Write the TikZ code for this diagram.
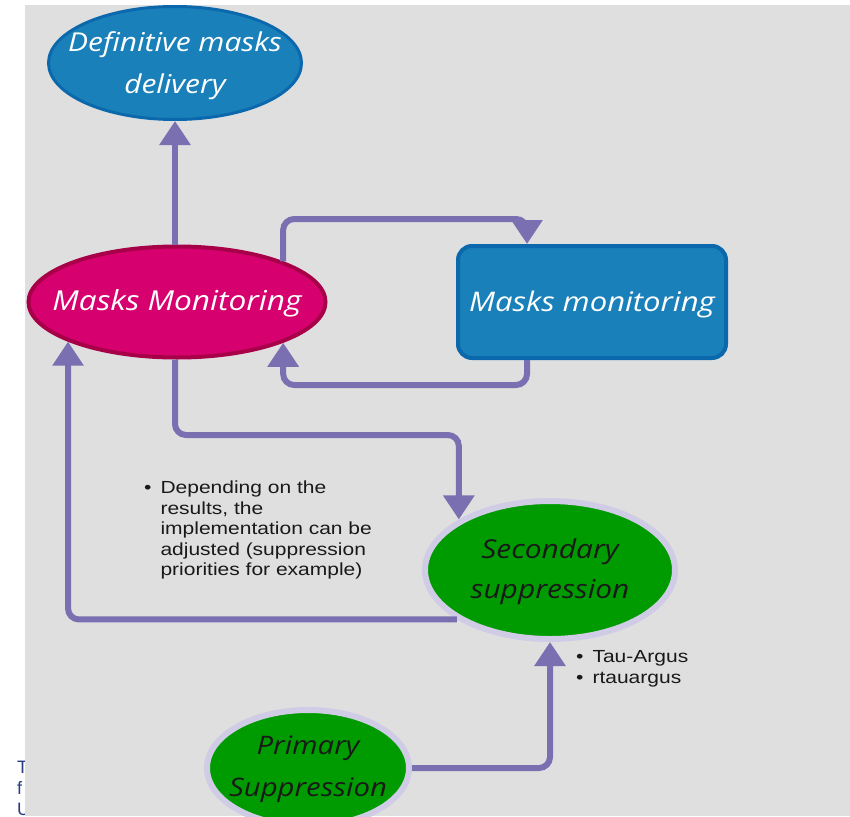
\documentclass[tikz,border=0pt]{standalone}
\usepackage{fontspec}
\setmainfont{Liberation Sans}
\newfontfamily\notefont[FakeStretch=1.2]{Liberation Sans}
\newfontfamily\hand[FakeStretch=1.15]{Open Sans}
\usetikzlibrary{arrows.meta,shapes.geometric}
\definecolor{bggray}{RGB}{223,223,223}
\definecolor{conncol}{RGB}{122,111,176}
\definecolor{bluefill}{RGB}{26,128,185}
\definecolor{blueedge}{RGB}{12,104,172}
\definecolor{magfill}{RGB}{214,0,110}
\definecolor{magedge}{RGB}{168,0,72}
\definecolor{greenfill}{RGB}{0,155,0}
\definecolor{lavedge}{RGB}{208,204,230}
\definecolor{navytext}{RGB}{40,60,130}
\tikzset{
  conn/.style={draw=conncol, line width=6pt, rounded corners=11pt,
    -{Triangle[width=30pt,length=24pt]}},
  lbl/.style={inner sep=0pt, align=center},
  blueell/.style={ellipse, fill=bluefill, draw=blueedge, line width=3pt, inner sep=0pt},
  magell/.style={ellipse, fill=magfill, draw=magedge, line width=4pt, inner sep=0pt},
  greenell/.style={ellipse, fill=greenfill, draw=lavedge, line width=6pt, inner sep=0pt},
  bluebox/.style={rectangle, rounded corners=14pt, fill=bluefill, draw=blueedge, line width=4pt,
    inner sep=0pt},
  wtext/.style={lbl, text=white},
  ktext/.style={lbl, text=black!90},
  note/.style={inner sep=0pt, anchor=north west, align=left, text=black!90,
    font=\notefont\fontsize{17.5}{20.5}\selectfont},
  cutletter/.style={inner sep=0pt, anchor=west, text=navytext, font=\fontsize{18}{20}\selectfont}
}
\begin{document}
\begin{tikzpicture}[x=1pt,y=-1pt]
\useasboundingbox (0,0) rectangle (850,816);
\fill[white] (0,0) rectangle (850,816);
\node[cutletter] (c1) at (17,767) {T};
\node[cutletter] (c2) at (17,788) {f};
\node[cutletter] (c3) at (17,809) {U};
\fill[bggray] (25,5) rectangle (850,816);
\begin{scope}
\clip (25,5) rectangle (850,816);
\node[blueell, minimum width=253pt, minimum height=113pt,
  label={[wtext, yshift=-3pt, font=\hand\itshape\fontsize{26}{42}\selectfont]center:{Definitive masks\\delivery}}] (def) at (175,63) {};
\node[magell, minimum width=297pt, minimum height=111pt,
  label={[wtext, yshift=-1pt, font=\hand\itshape\fontsize{27.5}{30}\selectfont]center:{Masks Monitoring}}] (mm) at (177,302) {};
\node[bluebox, minimum width=268pt, minimum height=112pt,
  label={[wtext, yshift=-2pt, font=\hand\itshape\fontsize{27}{30}\selectfont]center:{Masks monitoring}}] (box) at (592,302) {};
\node[greenell, minimum width=250pt, minimum height=138pt,
  label={[ktext, yshift=-2pt, font=\hand\itshape\fontsize{26}{40}\selectfont]center:{Secondary\\suppression}}] (sec) at (550,570) {};
\node[greenell, minimum width=202pt, minimum height=116pt,
  label={[ktext, yshift=-1pt, font=\hand\itshape\fontsize{25.5}{42}\selectfont]center:{Primary\\Suppression}}] (pri) at (308,768) {};

\coordinate (lt) at (283,219);
\coordinate (rt) at (527,219);
\coordinate (bl) at (283,385);
\coordinate (md) at (175,435);

\draw[conn] (def.south |- mm.north) -- (def.south);
\draw[conn] (mm.21) -- (mm.21 |- lt) -- (rt) -- (rt |- box.north);
\draw[conn] (rt |- box.south) -- (rt |- bl) -- (mm.-21 |- bl) -- (mm.-21);
\draw[conn] (mm.south -| def.south) -- (md) -| (sec.151);
\draw[conn] (sec.208) -| (mm.200);
\draw[conn] (pri.east) -| (sec.south);

\node[note] (n1) at (144,479) {\begin{tabular}{@{}l@{\hspace{9pt}}l@{}}
\textbullet & Depending on the\\
 & results, the\\
 & implementation can be\\
 & adjusted (suppression\\
 & priorities for example)
\end{tabular}};
\node[note] (n2) at (576,648) {\begin{tabular}{@{}l@{\hspace{9pt}}l@{}}
\textbullet & Tau-Argus\\
\textbullet & rtauargus
\end{tabular}};
\end{scope}
\end{tikzpicture}
\end{document}
